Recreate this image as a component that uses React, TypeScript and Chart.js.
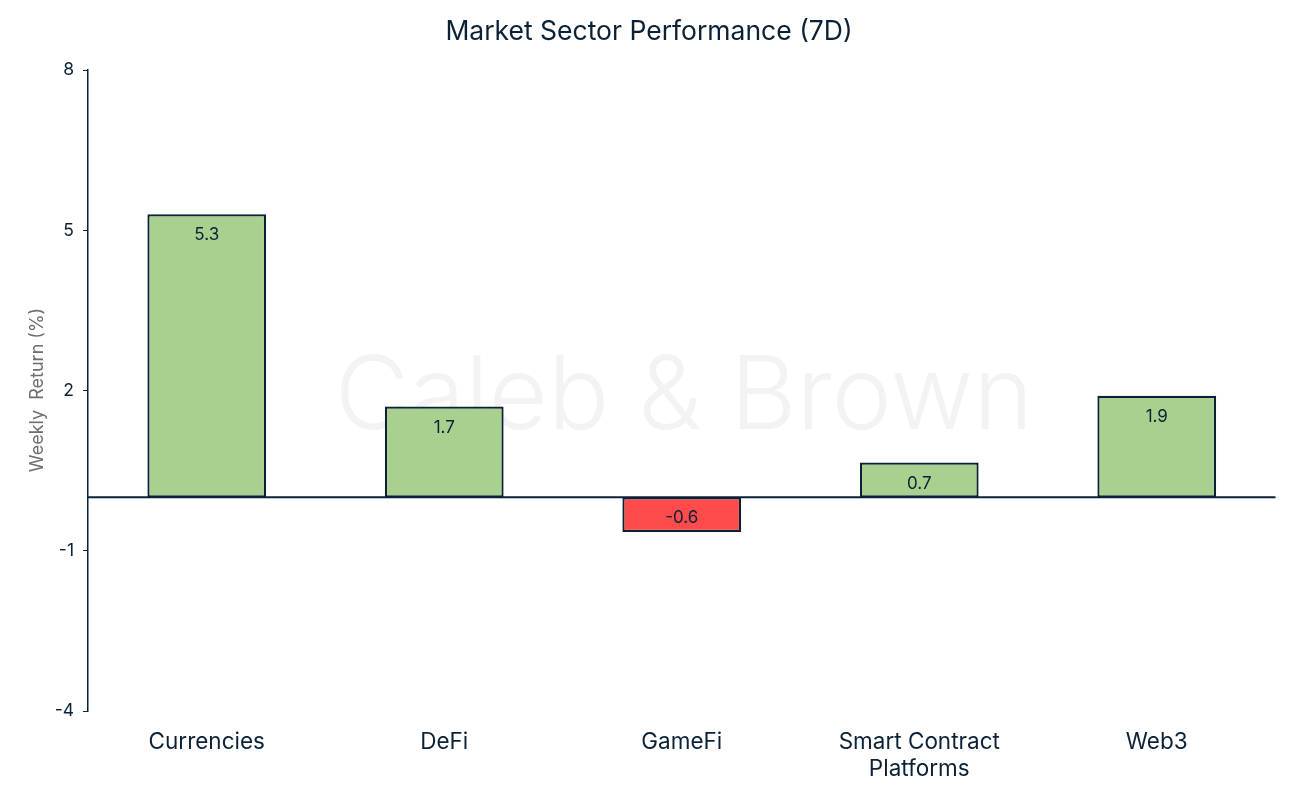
import React, { useEffect, useRef } from "react";
import { Chart, registerables } from "chart.js";

Chart.register(...registerables);

const categories: (string | string[])[] = ["Currencies", "DeFi", "GameFi", ["Smart Contract", "Platforms"], "Web3"];
const returns: number[] = [5.3, 1.7, -0.65, 0.65, 1.9];
const labelsText: string[] = ["5.3", "1.7", "-0.6", "0.7", "1.9"];
const yTicks: number[] = [-4, -1, 2, 5, 8];
const chartTitle = "Market Sector Performance (7D)";
const yTitle = "Weekly  Return (%)";
const watermark = "Caleb & Brown";

const NAVY = "#0b2136";
const FONT = "Inter, 'Noto Sans', sans-serif";

const overlayPlugin = {
  id: "overlay",
  beforeDatasetsDraw(chart: any) {
    const { ctx, chartArea, scales } = chart;
    ctx.save();
    // watermark
    ctx.fillStyle = "#f3f3f3";
    ctx.font = `300 102px ${FONT}`;
    ctx.textAlign = "center";
    ctx.textBaseline = "middle";
    ctx.fillText(watermark, 684, 398);
    // zero line
    const y0 = scales.y.getPixelForValue(0);
    ctx.strokeStyle = NAVY;
    ctx.lineWidth = 2;
    ctx.beginPath();
    ctx.moveTo(chartArea.left, y0);
    ctx.lineTo(chartArea.right, y0);
    ctx.stroke();
    // chart title
    ctx.fillStyle = NAVY;
    ctx.font = `26.5px ${FONT}`;
    ctx.fillText(chartTitle, 649, 32);
    // y title
    ctx.translate(38, 390);
    ctx.rotate(-Math.PI / 2);
    ctx.fillStyle = "#6e6e6e";
    ctx.font = `18px ${FONT}`;
    ctx.fillText(yTitle, 0, 0);
    ctx.restore();
  },
  afterDatasetsDraw(chart: any) {
    const { ctx } = chart;
    const meta = chart.getDatasetMeta(0);
    ctx.save();
    ctx.fillStyle = NAVY;
    ctx.font = `17px ${FONT}`;
    ctx.textAlign = "center";
    ctx.textBaseline = "middle";
    meta.data.forEach((bar: any, i: number) => {
      const top = Math.min(bar.y, bar.base);
      ctx.fillText(labelsText[i], bar.x, top + 21);
    });
    ctx.restore();
  },
};

export default function App() {
  const ref = useRef<HTMLCanvasElement>(null);
  useEffect(() => {
    document.body.style.margin = "0";
    const chart = new Chart(ref.current!, {
      type: "bar",
      data: {
        labels: categories as any,
        datasets: [
          {
            data: returns,
            backgroundColor: returns.map((v) => (v >= 0 ? "#a9d08e" : "#ff4b4b")),
            borderColor: NAVY,
            borderWidth: 2.2,
            borderSkipped: false,
            barPercentage: 0.5,
            categoryPercentage: 1,
          },
        ],
      },
      plugins: [overlayPlugin],
      options: {
        animation: false,
        responsive: false,
        maintainAspectRatio: false,
        layout: { padding: { left: 0, right: 22.5, top: 70, bottom: 0 } },
        plugins: {
          legend: { display: false },
          tooltip: { enabled: false },
          title: { display: false },
        },
        scales: {
          x: {
            grid: { display: false },
            border: { display: false },
            ticks: {
              color: NAVY,
              font: { family: FONT, size: 22.5 },
              padding: 10,
              maxRotation: 0,
              autoSkip: false,
            },
            afterFit(scale: any) {
              scale.height = 81;
            },
          },
          y: {
            min: -4,
            max: 8,
            afterBuildTicks(scale: any) {
              scale.ticks = yTicks.map((v) => ({ value: v }));
            },
            grid: {
              color: "rgba(0,0,0,0)",
              tickColor: NAVY,
              tickLength: 5,
              drawOnChartArea: false,
            },
            border: { display: true, color: NAVY, width: 1.5 },
            ticks: {
              color: NAVY,
              font: { family: FONT, size: 17.5 },
              padding: 9,
            },
            afterFit(scale: any) {
              scale.width = 88;
            },
          },
        },
      },
    });
    return () => chart.destroy();
  }, []);
  return (
    <div style={{ width: 1298, height: 792 }}>
      <canvas ref={ref} width={1298} height={792} style={{ width: 1298, height: 792 }} />
    </div>
  );
}
